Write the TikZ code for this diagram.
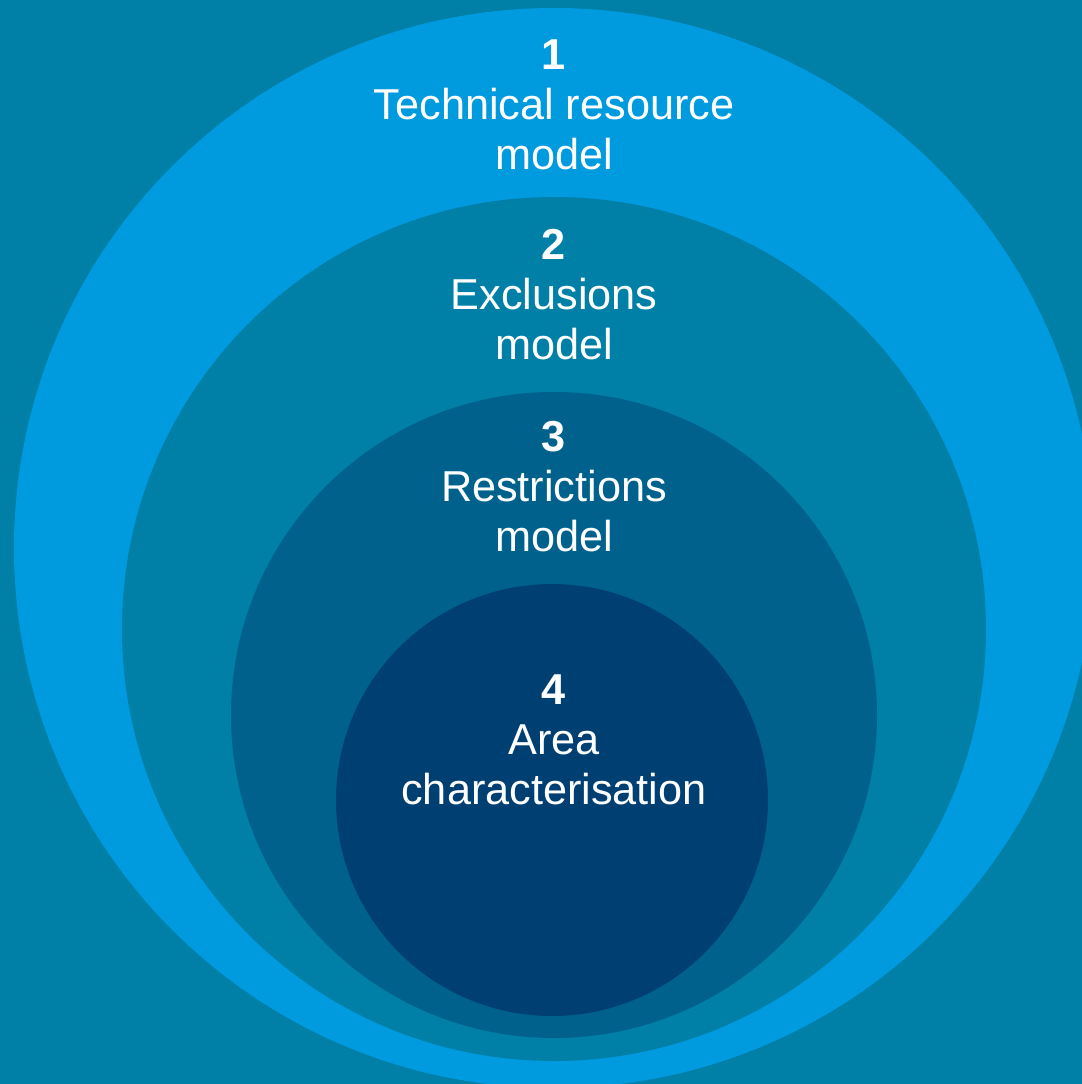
\documentclass[tikz,border=0pt]{standalone}
\usepackage{fontspec}
\setmainfont{Liberation Sans}
\definecolor{bgteal}{RGB}{0,127,167}
\definecolor{ringone}{RGB}{0,154,222}
\definecolor{ringtwo}{RGB}{0,127,167}
\definecolor{ringthree}{RGB}{0,98,140}
\definecolor{ringfour}{RGB}{0,63,114}
\tikzset{
 ringlabel/.style={text=white,align=center,font=\fontsize{12.3}{14.2}\selectfont},
}
\begin{document}
\begin{tikzpicture}[x=0.01cm,y=-0.01cm]
 \fill[bgteal](0,0) rectangle (1082,1084);
 \useasboundingbox (0,0) rectangle (1082,1084);
 \begin{scope}
 \clip (0,0) rectangle (1082,1084);
 \fill[ringone](554,548) circle [radius=540];
 \fill[ringtwo](554,629) circle [radius=432];
 \fill[ringthree](554,715) circle [radius=323];
 \fill[ringfour](552,800) circle [radius=216];
 \end{scope}
 \node[ringlabel] (tech) at (554,105) {\textbf{1}\\Technical resource\\model};
 \node[ringlabel] (excl) at (554,295) {\textbf{2}\\Exclusions\\model};
 \node[ringlabel] (restr) at (554,487) {\textbf{3}\\Restrictions\\model};
 \node[ringlabel] (area) at (554,740) {\textbf{4}\\Area\\characterisation};
\end{tikzpicture}
\end{document}
